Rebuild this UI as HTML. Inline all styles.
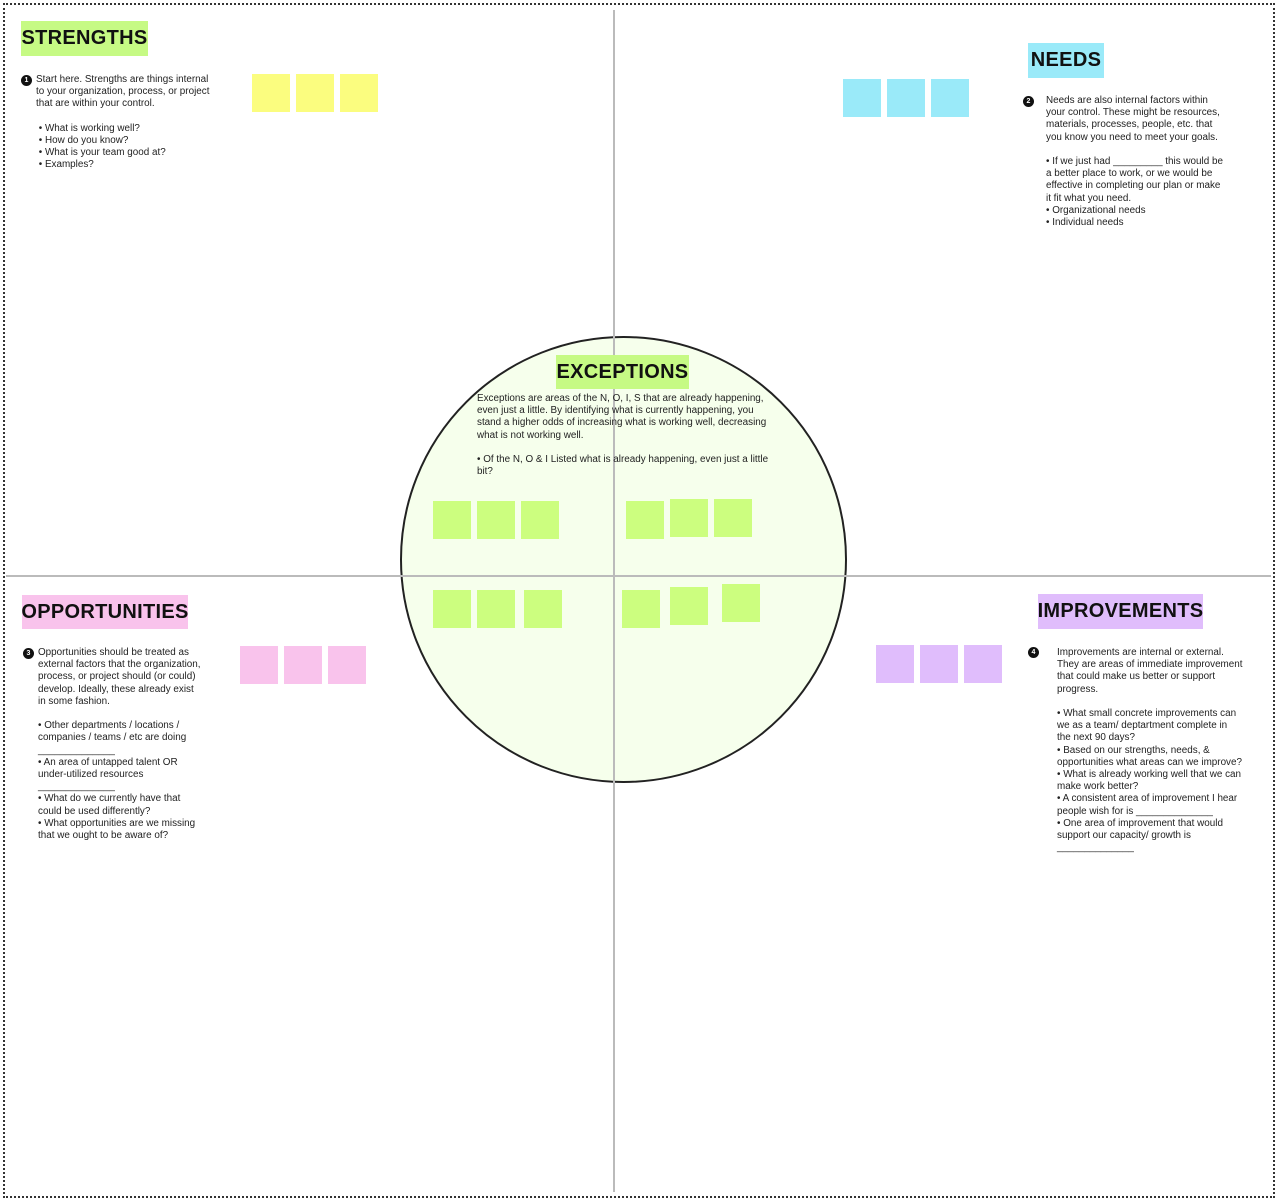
<!DOCTYPE html>
<html><head><meta charset="utf-8"><style>
body{margin:0;width:1277px;height:1200px;background:#fff;position:relative;overflow:hidden;font-family:"Liberation Sans",sans-serif;}
.a{position:absolute}
.frame{left:3px;top:3px;width:1268px;height:1191px;border:2px dotted #333;}
.h{position:absolute;font-weight:bold;font-size:20px;color:#111;display:flex;align-items:center;justify-content:center;letter-spacing:0.3px}
.t{position:absolute;font-size:9.9px;line-height:12.2px;color:#222;white-space:nowrap}
.s{position:absolute;width:38px;height:38px;}
.y{background:#fbfd7f}.b{background:#9aeaf9}.g{background:#ccfe7f}.p{background:#f9c3ec}.v{background:#e0bdfc}
.n{position:absolute;width:11px;height:11px;border-radius:50%;background:#111;color:#fff;font-size:7px;font-weight:bold;text-align:center;line-height:11px;}
</style></head><body>
<div class="a frame"></div>
<div class="a" style="left:400px;top:336px;width:443px;height:443px;border:2px solid #222;border-radius:50%;background:#f6ffec"></div>
<div class="a" style="left:613px;top:10px;width:1.5px;height:1182px;background:#bbb"></div>
<div class="a" style="left:6px;top:575px;width:1265px;height:1.5px;background:#bbb"></div>

<div class="h" style="left:21px;top:21px;width:127px;height:35px;background:#c6fa84">STRENGTHS</div>
<div class="n" style="left:21px;top:75px">1</div>
<div class="t" style="left:36px;top:74px">Start here. Strengths are things internal<br>to your organization, process, or project<br>that are within your control.<br><br>&nbsp;• What is working well?<br>&nbsp;• How do you know?<br>&nbsp;• What is your team good at?<br>&nbsp;• Examples?</div>
<div class="s y" style="left:252px;top:74px"></div><div class="s y" style="left:296px;top:74px"></div><div class="s y" style="left:340px;top:74px"></div>

<div class="h" style="left:1028px;top:43px;width:76px;height:35px;background:#9aeaf9">NEEDS</div>
<div class="n" style="left:1023px;top:96px">2</div>
<div class="t" style="left:1046px;top:95px">Needs are also internal factors within<br>your control. These might be resources,<br>materials, processes, people, etc. that<br>you know you need to meet your goals.<br><br>• If we just had _________ this would be<br>a better place to work, or we would be<br>effective in completing our plan or make<br>it fit what you need.<br>• Organizational needs<br>• Individual needs</div>
<div class="s b" style="left:843px;top:79px"></div><div class="s b" style="left:887px;top:79px"></div><div class="s b" style="left:931px;top:79px"></div>

<div class="h" style="left:556px;top:355px;width:133px;height:34px;background:#c6fa84">EXCEPTIONS</div>
<div class="t" style="left:477px;top:393px">Exceptions are areas of the N, O, I, S that are already happening,<br>even just a little. By identifying what is currently happening, you<br>stand a higher odds of increasing what is working well, decreasing<br>what is not working well.<br><br>• Of the N, O &amp; I Listed what is already happening, even just a little<br>bit?</div>
<div class="s g" style="left:433px;top:501px"></div><div class="s g" style="left:477px;top:501px"></div><div class="s g" style="left:521px;top:501px"></div>
<div class="s g" style="left:626px;top:501px"></div><div class="s g" style="left:670px;top:499px"></div><div class="s g" style="left:714px;top:499px"></div>
<div class="s g" style="left:433px;top:590px"></div><div class="s g" style="left:477px;top:590px"></div><div class="s g" style="left:524px;top:590px"></div>
<div class="s g" style="left:622px;top:590px"></div><div class="s g" style="left:670px;top:587px"></div><div class="s g" style="left:722px;top:584px"></div>

<div class="h" style="left:22px;top:595px;width:166px;height:34px;background:#f9c3ec">OPPORTUNITIES</div>
<div class="n" style="left:23px;top:648px">3</div>
<div class="t" style="left:38px;top:647px">Opportunities should be treated as<br>external factors that the organization,<br>process, or project should (or could)<br>develop. Ideally, these already exist<br>in some fashion.<br><br>• Other departments / locations /<br>companies / teams / etc are doing<br>______________<br>• An area of untapped talent OR<br>under-utilized resources<br>______________<br>• What do we currently have that<br>could be used differently?<br>• What opportunities are we missing<br>that we ought to be aware of?</div>
<div class="s p" style="left:240px;top:646px"></div><div class="s p" style="left:284px;top:646px"></div><div class="s p" style="left:328px;top:646px"></div>

<div class="h" style="left:1038px;top:594px;width:165px;height:35px;background:#e0bdfc">IMPROVEMENTS</div>
<div class="n" style="left:1028px;top:647px">4</div>
<div class="t" style="left:1057px;top:647px">Improvements are internal or external.<br>They are areas of immediate improvement<br>that could make us better or support<br>progress.<br><br>• What small concrete improvements can<br>we as a team/ deptartment complete in<br>the next 90 days?<br>• Based on our strengths, needs, &amp;<br>opportunities what areas can we improve?<br>• What is already working well that we can<br>make work better?<br>• A consistent area of improvement I hear<br>people wish for is ______________<br>• One area of improvement that would<br>support our capacity/ growth is<br>______________</div>
<div class="s v" style="left:876px;top:645px"></div><div class="s v" style="left:920px;top:645px"></div><div class="s v" style="left:964px;top:645px"></div>
</body></html>
